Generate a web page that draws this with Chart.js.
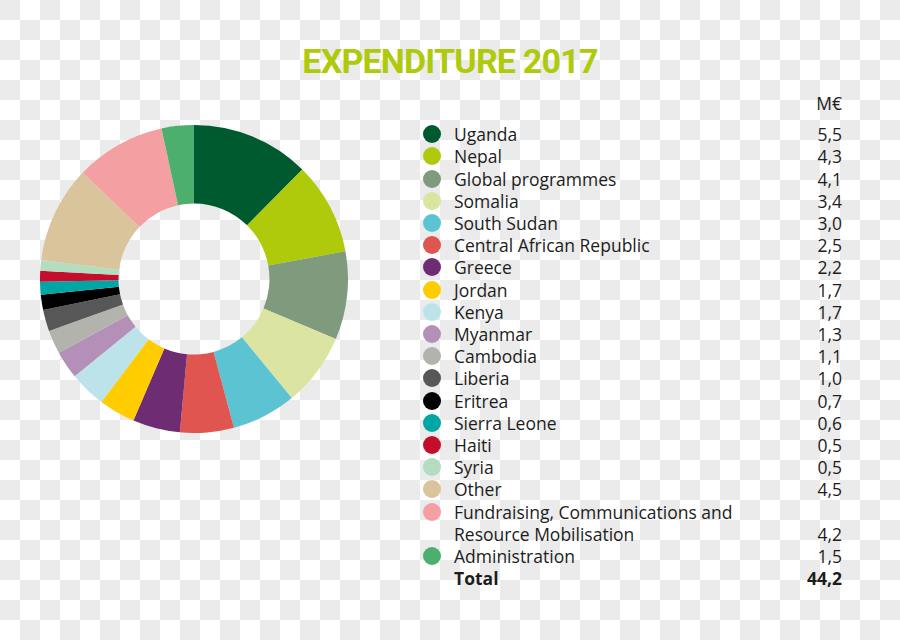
<!DOCTYPE html>
<html>
<head>
<meta charset="utf-8">
<script src="https://cdn.jsdelivr.net/npm/chart.js@4.4.1/dist/chart.umd.min.js"></script>
<style>
  html, body { margin:0; padding:0; }
  body {
    width:900px; height:640px; overflow:hidden; position:relative;
    background-color:#ffffff;
    background-image:
      linear-gradient(45deg, #ebebeb 25%, transparent 25%, transparent 75%, #ebebeb 75%),
      linear-gradient(45deg, #ebebeb 25%, transparent 25%, transparent 75%, #ebebeb 75%);
    background-size:40px 40px;
    background-position:20px 0, 0 20px;
    font-family:"Open Sans", "DejaVu Sans", sans-serif;
    color:#1d1d1b;
  }
  #title {
    position:absolute; left:0; width:900px; top:39px; text-align:center;
    font-family:"Roboto",sans-serif;
    font-weight:bold; font-size:34px; line-height:44px; color:#afca0b;
    letter-spacing:-0.8px;
  }
  #chartBox { position:absolute; left:40px; top:125px; width:308px; height:308px; }
  #legend { position:absolute; left:423px; top:92px; width:419px; font-size:17.5px; }
  .row { display:flex; align-items:flex-end; line-height:22.2px; }
  .mk { width:18px; height:18px; border-radius:50%; flex:none; margin-top:2px; align-self:flex-start; }
  .lab { width:310px; margin-left:13px; flex:none; }
  .val { flex:1; text-align:right; }
  .bold { font-weight:bold; }
</style>
</head>
<body>
<div id="title"></div>
<div id="chartBox"><canvas id="c" width="308" height="308"></canvas></div>
<div id="legend"></div>
<script>
const chartTitle = "EXPENDITURE 2017";
const unitLabel = "M€";
const categories = ["Uganda","Nepal","Global programmes","Somalia","South Sudan","Central African Republic","Greece","Jordan","Kenya","Myanmar","Cambodia","Liberia","Eritrea","Sierra Leone","Haiti","Syria","Other","Fundraising, Communications and Resource Mobilisation","Administration"];
const values = [5.5,4.3,4.1,3.4,3.0,2.5,2.2,1.7,1.7,1.3,1.1,1.0,0.7,0.6,0.5,0.5,4.5,4.2,1.5];
const valueLabels = ["5,5","4,3","4,1","3,4","3,0","2,5","2,2","1,7","1,7","1,3","1,1","1,0","0,7","0,6","0,5","0,5","4,5","4,2","1,5"];
const totalLabel = "Total";
const totalValue = "44,2";
const colors = ["#005a2f","#afca0b","#7f9a7d","#dbe4a0","#5cc3d2","#e0554f","#6e2c73","#ffcc00","#bde3ea","#b48fb8","#b3b3ae","#575757","#000000","#00a6a6","#c30f2d","#b4dcbf","#d9c49c","#f4a0a3","#4caf6e"];

document.getElementById('title').textContent = chartTitle;

const leg = document.getElementById('legend');
function addRow(markColor, label, val, bold) {
  const r = document.createElement('div');
  r.className = 'row' + (bold ? ' bold' : '');
  const m = document.createElement('div');
  m.className = 'mk';
  if (markColor) m.style.background = markColor;
  const l = document.createElement('div'); l.className = 'lab'; l.textContent = label;
  const v = document.createElement('div'); v.className = 'val'; v.textContent = val;
  r.appendChild(m); r.appendChild(l); r.appendChild(v);
  leg.appendChild(r);
}
addRow(null, "", unitLabel, false);
leg.lastChild.style.marginBottom = "9px";
categories.forEach((c, i) => addRow(colors[i], c, valueLabels[i], false));
addRow(null, totalLabel, totalValue, true);

new Chart(document.getElementById('c'), {
  type: 'doughnut',
  data: { labels: categories, datasets: [{ data: values, backgroundColor: colors, borderWidth: 0 }] },
  options: {
    responsive: false, animation: false, cutout: '49%',
    layout: { padding: 0 },
    plugins: { legend: { display: false }, tooltip: { enabled: false } }
  }
});
</script>
</body>
</html>
